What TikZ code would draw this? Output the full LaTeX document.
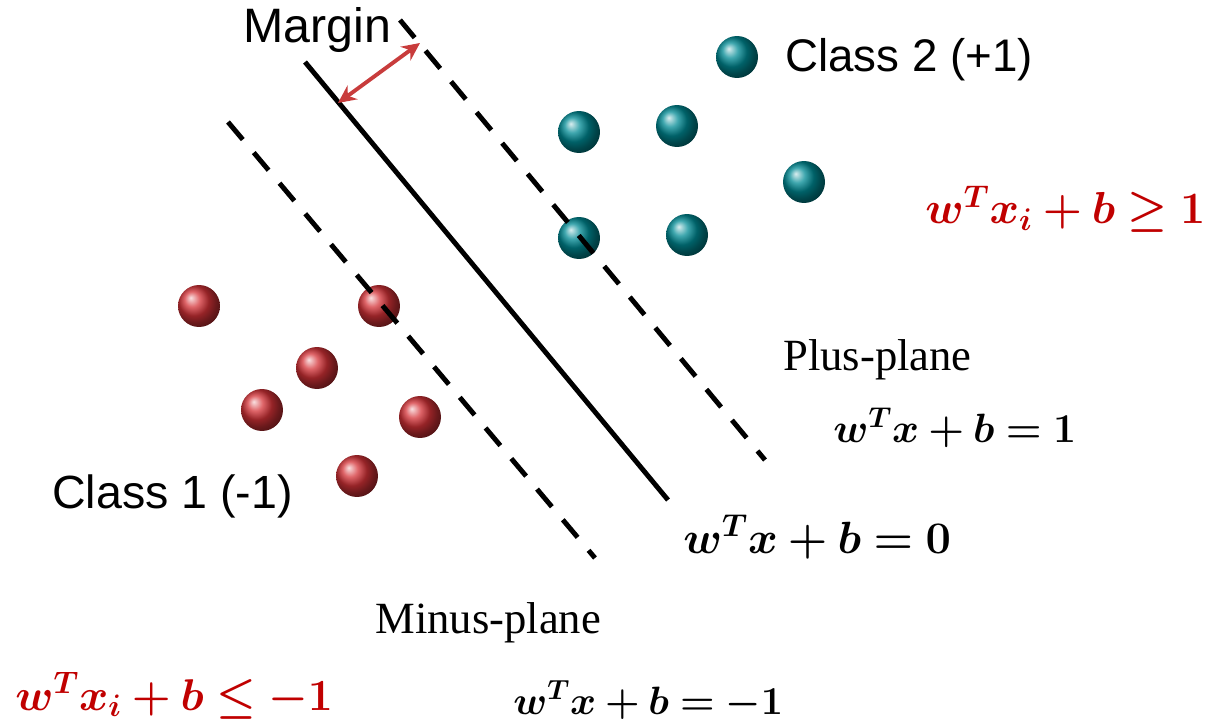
\RequirePackage{fix-cm}
\documentclass[tikz,border=0pt]{standalone}
\usepackage{amsmath,amssymb,bm}
\usepackage{fontspec}
\newfontfamily\labelsans{Liberation Sans}
\newfontfamily\labelserif{Liberation Serif}
\usetikzlibrary{arrows,arrows.meta,shapes,positioning,calc}
\definecolor{tealball}{RGB}{0,138,148}
\definecolor{redball}{RGB}{212,50,55}
\definecolor{eqred}{RGB}{192,0,0}
\definecolor{marginred}{RGB}{200,60,60}

\begin{document}
\begin{tikzpicture}[
    x=0.02cm,y=-0.02cm,
    cls2/.style={circle,minimum size=0.84cm,inner sep=0pt,ball color=tealball},
    cls1/.style={circle,minimum size=0.84cm,inner sep=0pt,ball color=redball},
    hyper/.style={line width=2.8pt},
    plane/.style={line width=2.8pt,dash pattern=on 0.46cm off 0.34cm},
    arrow/.style={{Stealth[length=0.36cm,width=0.34cm]}-{Stealth[length=0.36cm,width=0.34cm]},line width=2.2pt,draw=marginred},
    lbl/.style={font=\labelsans\fontsize{26.5}{30}\selectfont,inner sep=0pt,anchor=base west},
    plbl/.style={font=\labelserif\fontsize{25.4}{28}\selectfont,inner sep=0pt,anchor=base west},
    eqn/.style={inner sep=0pt,anchor=base west}
]
    \useasboundingbox (0,0) rectangle (1214,726);

    % Data points
    \node[cls2] (p2a) at (737,57) {};
    \foreach \pos [count=\i] in {(579,132),(677,126),(804,182),(579,238),(687,235)}
        \node[cls2] (q\i) at \pos {};
    \foreach \pos [count=\i] in {(199,306),(379,306),(317,368),(262,410),(420,417),(357,476)}
        \node[cls1] (r\i) at \pos {};

    % Hyperplanes
    \coordinate (hTop) at (305,62);
    \coordinate (hBot) at (668,500);
    \coordinate (pTop) at (400,20);
    \coordinate (pBot) at (765,460);
    \coordinate (mTop) at (228,122);
    \coordinate (mBot) at (595,558);
    \draw[hyper] (hTop) -- (hBot);
    \draw[plane] (pTop) -- (pBot);
    \draw[plane] (mTop) -- (mBot);

    % Margin
    \coordinate (mgA) at (338,103);
    \coordinate (mgB) at (420,43);
    \draw[arrow] (mgA) -- (mgB);
    \node[lbl,font=\labelsans\fontsize{27.5}{30}\selectfont] (margin) at (243,43) {Margin};

    % Class labels
    \node[lbl,font=\labelsans\fontsize{26}{30}\selectfont] (c2) at (785,72) {Class 2 (+1)};
    \node[lbl] (c1) at (52,508) {Class 1 (-1)};

    % Plane labels and equations
    \node[plbl] (plus) at (783,370) {Plus-plane};
    \node[eqn,font=\fontsize{23.3}{26}\selectfont] (eqplus) at (833,442) {$\bm{w^T x + b = 1}$};
    \node[eqn,font=\fontsize{25.7}{28}\selectfont] (eqzero) at (683,553) {$\bm{w^T x + b = 0}$};
    \node[plbl] (minus) at (375,633) {Minus-plane};
    \node[eqn,font=\fontsize{22.5}{26}\selectfont] (eqminus) at (513,714) {$\bm{w^T x + b = -1}$};

    % Constraints
    \node[eqn,text=eqred,font=\fontsize{25.5}{30}\selectfont] (conplus) at (925,224) {$\bm{w^T x_i + b \geq 1}$};
    \node[eqn,text=eqred,font=\fontsize{25.3}{30}\selectfont] (conminus) at (15,710) {$\bm{w^T x_i + b \leq -1}$};
\end{tikzpicture}
\end{document}
